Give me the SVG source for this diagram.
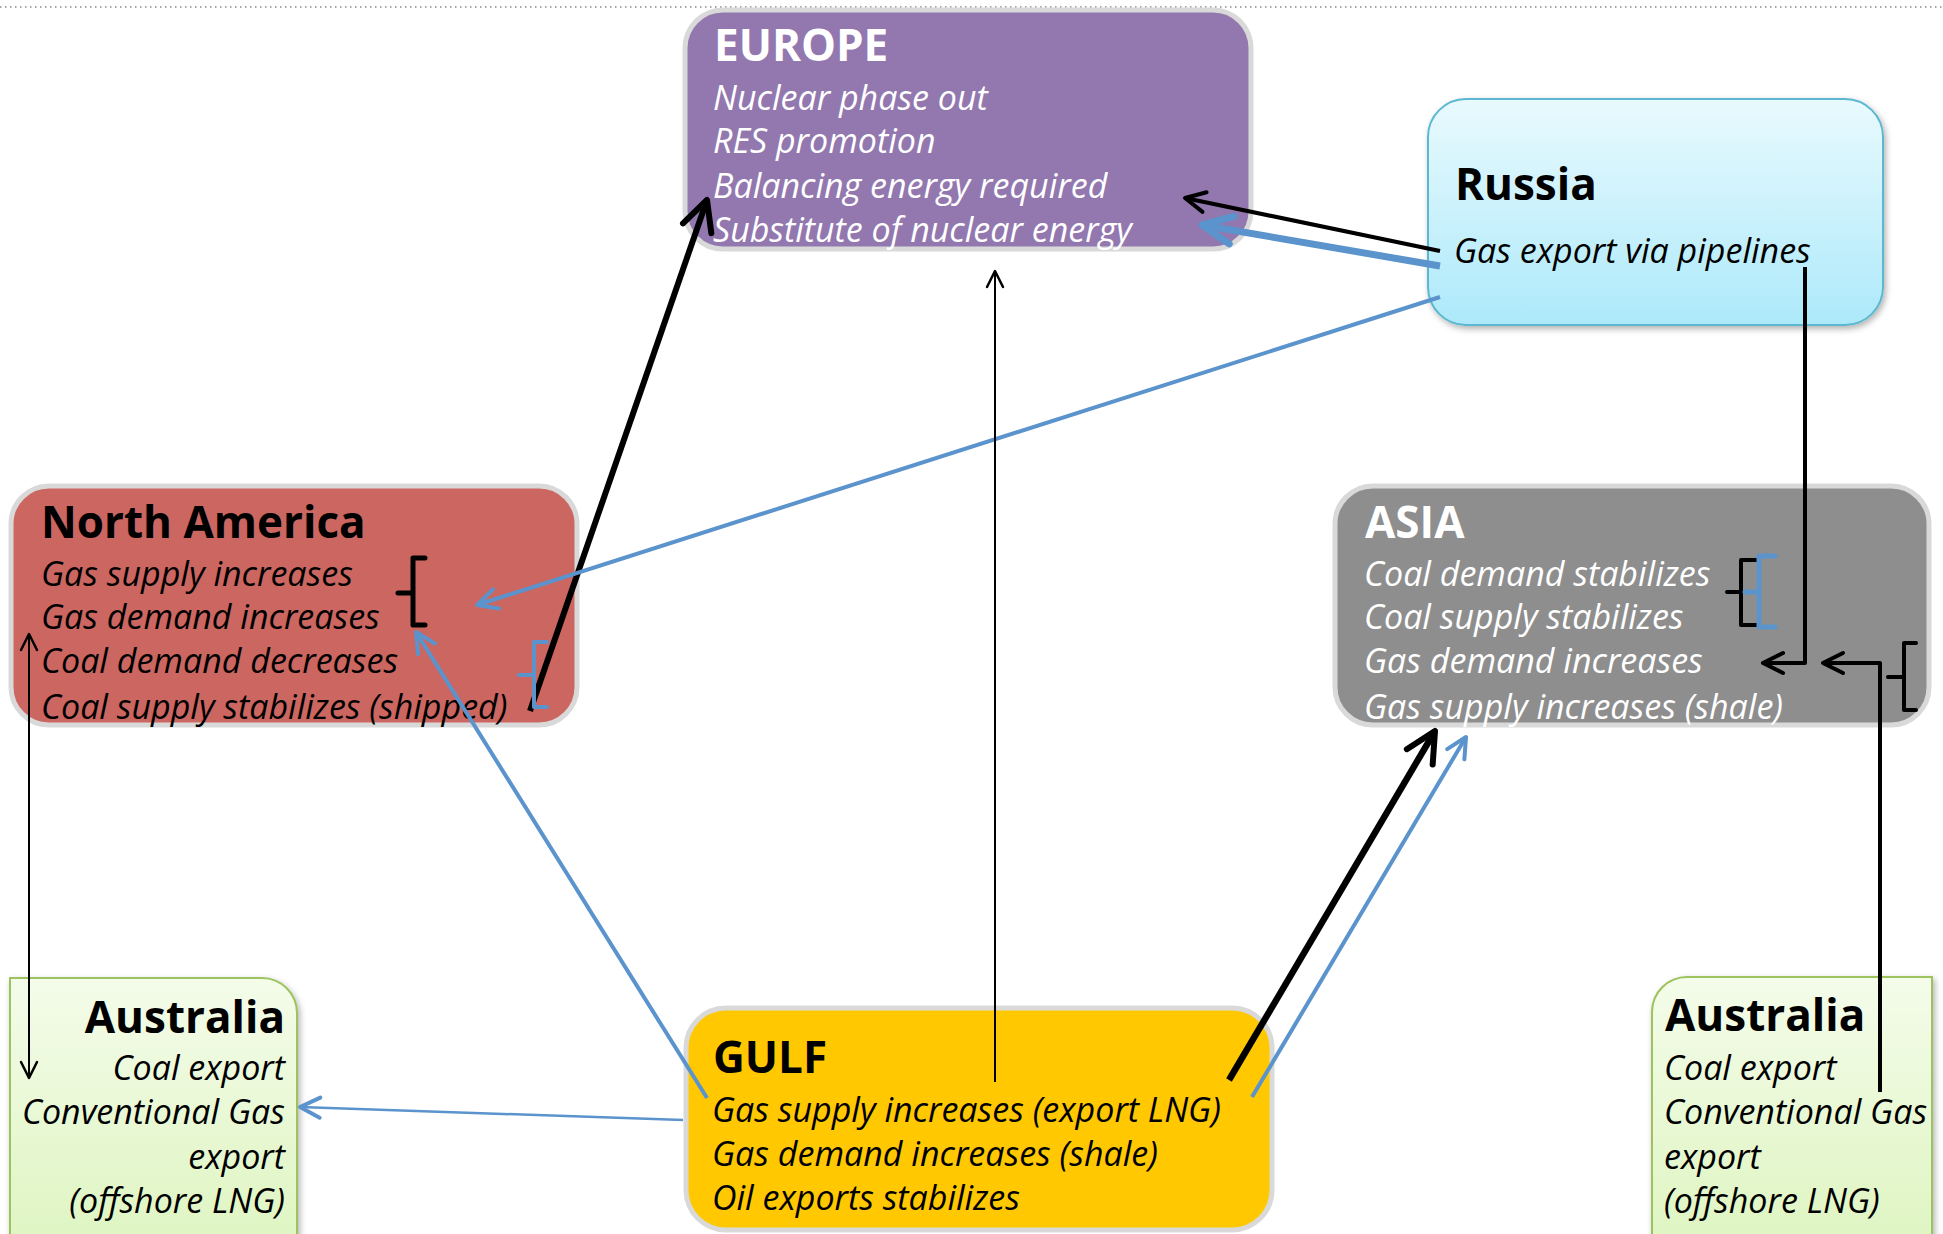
<svg xmlns="http://www.w3.org/2000/svg" width="1943" height="1234" viewBox="0 0 1943 1234">
<defs>
<style>
.title{font-family:"Open Sans","Liberation Sans",sans-serif;font-weight:700;font-size:44px}
.item{font-family:"Open Sans","Liberation Sans",sans-serif;font-style:italic;font-size:34px}
.w{fill:#ffffff}
.k{fill:#000000}
.blk{stroke:#000;fill:none;stroke-linejoin:round}
.blu{stroke:#5B93CC;fill:none;stroke-linejoin:round}
.box{stroke:#D9D9D9;stroke-width:5}
</style>
<linearGradient id="gRus" x1="0" y1="0" x2="0" y2="1">
<stop offset="0" stop-color="#E9FAFE"/><stop offset="1" stop-color="#ADE9FA"/>
</linearGradient>
<linearGradient id="gAus" x1="0" y1="0" x2="0" y2="1">
<stop offset="0" stop-color="#F4FCEA"/><stop offset="1" stop-color="#DFF5C2"/>
</linearGradient>
<filter id="sh" x="-10%" y="-10%" width="130%" height="130%">
<feDropShadow dx="2" dy="3" stdDeviation="3" flood-color="#000" flood-opacity="0.3"/>
</filter>
<marker id="kThin" markerUnits="userSpaceOnUse" orient="auto-start-reverse" refX="0" refY="0" markerWidth="30" markerHeight="30" viewBox="-20 -15 30 30" overflow="visible">
<path d="M-16,-8 L0,0 L-16,8" fill="none" stroke="#000" stroke-width="2.5" stroke-linecap="round" stroke-linejoin="round"/>
</marker>
<marker id="kMed" markerUnits="userSpaceOnUse" orient="auto" refX="0" refY="0" markerWidth="30" markerHeight="30" viewBox="-20 -15 30 30" overflow="visible">
<path d="M-20,-10 L0,0 L-20,10" fill="none" stroke="#000" stroke-width="4" stroke-linecap="round" stroke-linejoin="round"/>
</marker>
<marker id="kThick" markerUnits="userSpaceOnUse" orient="auto" refX="0" refY="0" markerWidth="40" markerHeight="40" viewBox="-35 -20 40 40" overflow="visible">
<path d="M-30,-15 L0,0 L-30,15" fill="none" stroke="#000" stroke-width="6" stroke-linecap="round" stroke-linejoin="round"/>
</marker>
<marker id="bThin" markerUnits="userSpaceOnUse" orient="auto" refX="0" refY="0" markerWidth="30" markerHeight="30" viewBox="-25 -15 30 30" overflow="visible">
<path d="M-20,-10 L0,0 L-20,10" fill="none" stroke="#5B93CC" stroke-width="4" stroke-linecap="round" stroke-linejoin="round"/>
</marker>
<marker id="bThick" markerUnits="userSpaceOnUse" orient="auto" refX="0" refY="0" markerWidth="40" markerHeight="40" viewBox="-35 -20 40 40" overflow="visible">
<path d="M-30,-14 L0,0 L-30,14" fill="none" stroke="#5B93CC" stroke-width="7" stroke-linecap="round" stroke-linejoin="round"/>
</marker>
</defs>

<rect width="1943" height="1234" fill="#ffffff"/>
<line x1="0" y1="7" x2="1943" y2="7" stroke="#A6A6A6" stroke-width="2" stroke-dasharray="1.5 3.5"/>

<g id="europe">
<rect class="box" x="685" y="10" width="566" height="239" rx="38" fill="#9378B0"/>
<text class="title w" x="714" y="61">EUROPE</text>
<text class="item w" x="713" y="110">Nuclear phase out</text>
<text class="item w" x="713" y="153">RES promotion</text>
<text class="item w" x="713" y="198">Balancing energy required</text>
<text class="item w" x="713" y="242">Substitute of nuclear energy</text>
</g>

<g id="russia">
<rect x="1428" y="99" width="455" height="226" rx="38" fill="url(#gRus)" stroke="#5BB8D0" stroke-width="2" filter="url(#sh)"/>
<text class="title k" x="1455" y="200">Russia</text>
<text class="item k" x="1454" y="263">Gas export via pipelines</text>
</g>

<g id="north-america">
<rect class="box" x="11" y="486" width="566" height="239" rx="38" fill="#CC6660"/>
<text class="title k" x="41" y="538">North America</text>
<text class="item k" x="41" y="586">Gas supply increases</text>
<text class="item k" x="41" y="629">Gas demand increases</text>
<text class="item k" x="41" y="673">Coal demand decreases</text>
<text class="item k" x="41" y="719">Coal supply stabilizes (shipped)</text>
</g>

<g id="asia">
<rect class="box" x="1335" y="486" width="594" height="239" rx="38" fill="#8E8E8E"/>
<text class="title w" x="1365" y="538">ASIA</text>
<text class="item w" x="1364" y="586">Coal demand stabilizes</text>
<text class="item w" x="1364" y="629">Coal supply stabilizes</text>
<text class="item w" x="1364" y="673">Gas demand increases</text>
<text class="item w" x="1364" y="719">Gas supply increases (shale)</text>
</g>

<g id="gulf">
<rect class="box" x="686" y="1008" width="586" height="222" rx="40" fill="#FFC800"/>
<text class="title k" x="713" y="1073">GULF</text>
<text class="item k" x="712" y="1122">Gas supply increases (export LNG)</text>
<text class="item k" x="712" y="1166">Gas demand increases (shale)</text>
<text class="item k" x="712" y="1210">Oil exports stabilizes</text>
</g>

<g id="australia-left">
<path d="M10,1240 L10,978 L262,978 A35,35 0 0 1 297,1013 L297,1240 Z" fill="url(#gAus)" stroke="#9DC35E" stroke-width="2" filter="url(#sh)"/>
<g text-anchor="end">
<text class="title k" x="285" y="1033">Australia</text>
<text class="item k" x="285" y="1080">Coal export</text>
<text class="item k" x="285" y="1124">Conventional Gas</text>
<text class="item k" x="285" y="1169">export</text>
<text class="item k" x="285" y="1213">(offshore LNG)</text>
</g>
</g>

<g id="australia-right">
<path d="M1652,1240 L1652,1012 A35,35 0 0 1 1687,977 L1932,977 L1932,1240 Z" fill="url(#gAus)" stroke="#9DC35E" stroke-width="2" filter="url(#sh)"/>
<text class="title k" x="1665" y="1031">Australia</text>
<text class="item k" x="1664" y="1080">Coal export</text>
<text class="item k" x="1664" y="1124">Conventional Gas</text>
<text class="item k" x="1664" y="1169">export</text>
<text class="item k" x="1664" y="1213">(offshore LNG)</text>
</g>

<g id="connectors">
<path class="blk" d="M530,711 L707,200" stroke-width="6" marker-end="url(#kThick)"/>
<path class="blk" d="M1440,251 L1185,198" stroke-width="4" marker-end="url(#kMed)"/>
<path class="blu" d="M1440,266 L1202,225" stroke-width="7" marker-end="url(#bThick)"/>
<path class="blu" d="M1440,297 L477,605" stroke-width="4" marker-end="url(#bThin)"/>
<path class="blk" d="M995,1082 L995,271" stroke-width="2" marker-end="url(#kThin)"/>
<path class="blk" d="M1805,267 L1805,663 L1763,663" stroke-width="4" marker-end="url(#kMed)"/>
<path class="blk" d="M1880,1092 L1880,663 L1823,663" stroke-width="4" marker-end="url(#kMed)"/>
<path class="blk" d="M1229,1080 L1435,731" stroke-width="6.5" marker-end="url(#kThick)"/>
<path class="blu" d="M1252,1097 L1466,737" stroke-width="4" marker-end="url(#bThin)"/>
<path class="blu" d="M707,1098 L416,632" stroke-width="4" marker-end="url(#bThin)"/>
<path class="blu" d="M683,1120 L300,1107" stroke-width="2.5" marker-end="url(#bThin)"/>
<path class="blk" d="M29,634 L29,1078" stroke-width="2" marker-start="url(#kThin)" marker-end="url(#kThin)"/>
<g id="brackets" stroke-linecap="round">
<path class="blk" d="M425,558 L413,558 L413,625 L425,625 M413,593 L398,593" stroke-width="5"/>
<path class="blu" d="M547,642 L534,642 L534,707 L547,707 M534,675 L519,675" stroke-width="4"/>
<path class="blk" d="M1757,560 L1741,560 L1741,625 L1757,625 M1741,592 L1727,592" stroke-width="4"/>
<path class="blu" d="M1775,556 L1759,556 L1759,627 L1775,627 M1759,592 L1745,592" stroke-width="5"/>
<path class="blk" d="M1916,643 L1904,643 L1904,710 L1916,710 M1904,677 L1888,677" stroke-width="4"/>
</g>
</g>
</svg>
